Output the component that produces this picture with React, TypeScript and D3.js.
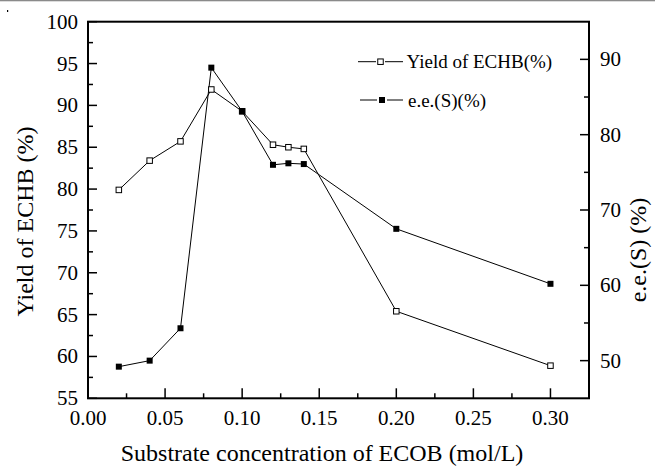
import React from "react";
import * as d3 from "d3";

const concentration = [0.02, 0.04, 0.06, 0.08, 0.10, 0.12, 0.13, 0.14, 0.20, 0.30];
const yieldValues = [79.9, 83.4, 85.7, 91.9, 89.3, 85.3, 85.0, 84.8, 65.4, 58.9];
const eeValues = [49.2, 50.0, 54.3, 88.9, 83.1, 76.0, 76.2, 76.1, 67.5, 60.2];

const xTicks = [0, 0.05, 0.1, 0.15, 0.2, 0.25, 0.3];
const xMinor = [0.025, 0.075, 0.125, 0.175, 0.225, 0.275];
const yLeftTicks = [55, 60, 65, 70, 75, 80, 85, 90, 95, 100];
const yLeftMinor = [57.5, 62.5, 67.5, 72.5, 77.5, 82.5, 87.5, 92.5, 97.5];
const yRightTicks = [50, 60, 70, 80, 90];
const yRightMinor = [55, 65, 75, 85];

const legendLabels = ["Yield of ECHB(%)", "e.e.(S)(%)"];

const W = 655;
const H = 468;
const L = 88;
const R = 589;
const T = 21.7;
const B = 398.3;
const FONT = "'Liberation Serif', 'Times New Roman', serif";

export default function App() {
  const x = d3.scaleLinear().domain([0, 0.325]).range([L, R]);
  const yL = d3.scaleLinear().domain([55, 100]).range([B, T]);
  const yR = d3.scaleLinear().domain([45, 95]).range([B, T]);

  const yieldPts = concentration.map((c, i) => [x(c), yL(yieldValues[i])] as [number, number]);
  const eePts = concentration.map((c, i) => [x(c), yR(eeValues[i])] as [number, number]);
  const line = d3.line();

  const sq = 5.5;

  return (
    <svg
      width={W}
      height={H}
      style={{ position: "absolute", left: 0, top: 0, background: "#fff", fontFamily: FONT }}
    >
      <rect x={0} y={0} width={W} height={H} fill="#fff" />
      <rect x={0} y={0} width={W} height={1.3} fill="#8a8a8a" />
      <rect x={7} y={10} width={1.2} height={2} fill="#000" />

      {/* data lines */}
      <path d={line(yieldPts) || ""} fill="none" stroke="#000" strokeWidth={1} />
      <path d={line(eePts) || ""} fill="none" stroke="#000" strokeWidth={1} />
      {yieldPts.map((p, i) => (
        <rect key={"y" + i} x={p[0] - sq / 2} y={p[1] - sq / 2} width={sq} height={sq} fill="#fff" stroke="#000" strokeWidth={1} />
      ))}
      {eePts.map((p, i) => (
        <rect key={"e" + i} x={p[0] - 3} y={p[1] - 3} width={6} height={6} fill="#000" />
      ))}

      {/* ticks */}
      {xTicks.map((t) => (
        <line key={"xt" + t} x1={x(t)} x2={x(t)} y1={B} y2={B - 10} stroke="#000" strokeWidth={1.5} />
      ))}
      {xMinor.map((t) => (
        <line key={"xm" + t} x1={x(t)} x2={x(t)} y1={B} y2={B - 5} stroke="#000" strokeWidth={1.5} />
      ))}
      {yLeftTicks.map((t) => (
        <line key={"lt" + t} x1={L} x2={L + 9} y1={yL(t)} y2={yL(t)} stroke="#000" strokeWidth={1.5} />
      ))}
      {yLeftMinor.map((t) => (
        <line key={"lm" + t} x1={L} x2={L + 5} y1={yL(t)} y2={yL(t)} stroke="#000" strokeWidth={1.5} />
      ))}
      {yRightTicks.map((t) => (
        <line key={"rt" + t} x1={R} x2={R - 9} y1={yR(t)} y2={yR(t)} stroke="#000" strokeWidth={1.5} />
      ))}
      {yRightMinor.map((t) => (
        <line key={"rm" + t} x1={R} x2={R - 5} y1={yR(t)} y2={yR(t)} stroke="#000" strokeWidth={1.5} />
      ))}

      {/* frame */}
      <rect x={L} y={T} width={R - L} height={B - T} fill="none" stroke="#000" strokeWidth={2} />

      {/* tick labels */}
      {xTicks.map((t) => (
        <text key={"xl" + t} x={x(t)} y={425} textAnchor="middle" fontSize={21} fill="#000">
          {d3.format(".2f")(t)}
        </text>
      ))}
      {yLeftTicks.map((t) => (
        <text key={"ll" + t} x={78} y={yL(t) + 7} textAnchor="end" fontSize={21} fill="#000">
          {t}
        </text>
      ))}
      {yRightTicks.map((t) => (
        <text key={"rl" + t} x={600} y={yR(t) + 7} textAnchor="start" fontSize={21} fill="#000">
          {t}
        </text>
      ))}

      {/* axis titles */}
      <text x={322} y={461} textAnchor="middle" fontSize={24} fill="#000">
        Substrate concentration of ECOB (mol/L)
      </text>
      <text transform="translate(33,221.5) rotate(-90)" textAnchor="middle" fontSize={24} fill="#000">
        Yield of ECHB (%)
      </text>
      <text transform="translate(646,250) rotate(-90)" textAnchor="middle" fontSize={24} fill="#000">
        e.e.(S) (%)
      </text>

      {/* legend */}
      <g>
        <line x1={358} x2={376} y1={61.7} y2={61.7} stroke="#000" strokeWidth={1} />
        <line x1={385} x2={403} y1={61.7} y2={61.7} stroke="#000" strokeWidth={1} />
        <rect x={380.5 - sq / 2} y={61.7 - sq / 2} width={sq} height={sq} fill="#fff" stroke="#000" strokeWidth={1} />
        <text x={406.5} y={61.7 + 6.5} fontSize={19} fill="#000">
          {legendLabels[0]}
        </text>
        <line x1={360} x2={377} y1={100} y2={100} stroke="#000" strokeWidth={1} />
        <line x1={387} x2={403} y1={100} y2={100} stroke="#000" strokeWidth={1} />
        <rect x={382 - 3} y={100 - 3} width={6} height={6} fill="#000" />
        <text x={408} y={100 + 6.5} fontSize={19} fill="#000">
          {legendLabels[1]}
        </text>
      </g>
    </svg>
  );
}
